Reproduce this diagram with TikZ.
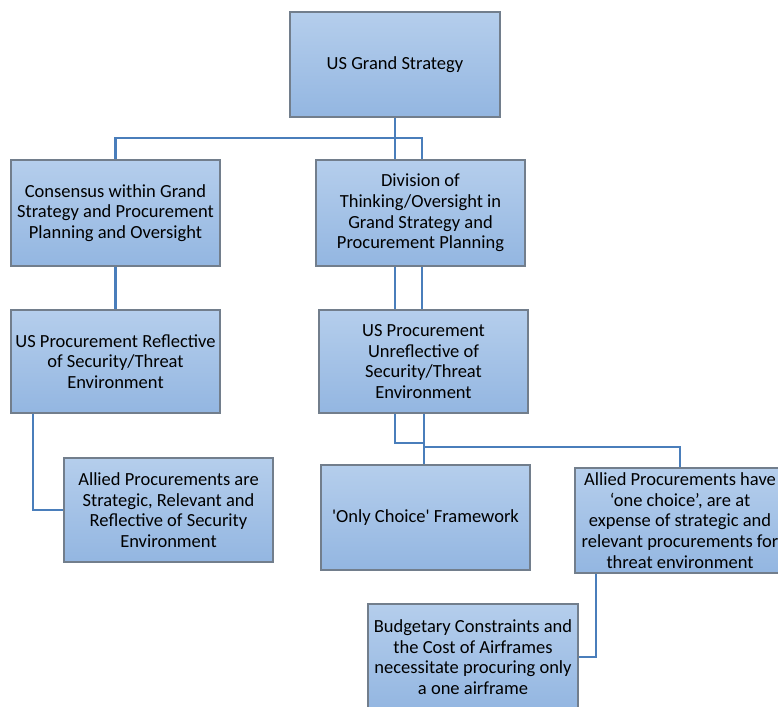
\documentclass[tikz,border=0pt]{standalone}
\usepackage{fontspec}
\setmainfont{Carlito}
\usetikzlibrary{calc}
\definecolor{boxtop}{HTML}{B5CEEC}
\definecolor{boxbot}{HTML}{93B6E1}
\definecolor{boxline}{HTML}{727E8C}
\definecolor{connblue}{HTML}{4A7EBB}
\newcommand{\boxfont}{\fontsize{18.5}{20.6}\selectfont}
\tikzset{
  box/.style={draw=boxline, line width=1.2pt, top color=boxtop, bottom color=boxbot,
    align=center, inner sep=2pt, minimum width=209pt, minimum height=105pt,
    font=\boxfont, text=black},
  conn/.style={draw=connblue, line width=2.6pt}
}
\begin{document}
\begin{tikzpicture}[x=1pt,y=-1pt]
\useasboundingbox (0,0) rectangle (778,706);
\clip (0,0) rectangle (778,706);
\fill[white] (0,0) rectangle (778,706);

\coordinate (x33) at (33,0);
\coordinate (x395) at (395,0);
\coordinate (x422) at (422,0);
\coordinate (x424) at (424,0);
\coordinate (x596) at (596,0);
\coordinate (j2) at (422,138);
\coordinate (j3) at (395,443);
\coordinate (j4) at (424,447);

\node[box, minimum width=210pt] (A) at (395,64.5) {US Grand Strategy};
\node[box, minimum height=106pt] (B) at (115.5,213) {Consensus within Grand\\Strategy and Procurement\\Planning and Oversight};
\node[box, minimum height=106pt] (C) at (420.5,213) {Division of\\Thinking/Oversight in\\Grand Strategy and\\Procurement Planning};
\node[box, minimum height=103pt] (D) at (115.5,361.5) {US Procurement Reflective\\of Security/Threat\\Environment};
\node[box, minimum height=103pt] (E) at (423.5,361.5) {US Procurement\\Unreflective of\\Security/Threat\\Environment};
\node[box, minimum height=104pt] (F) at (168.5,510) {Allied Procurements are\\Strategic, Relevant and\\Reflective of Security\\Environment};
\node[box] (G) at (425.5,517.5) {\textquotesingle Only Choice\textquotesingle{} Framework};
\node[box, minimum width=210pt] (H) at (680,520.5) {Allied Procurements have\\‘one choice’, are at\\expense of strategic and\\relevant procurements for\\threat environment};
\node[box, minimum width=210pt, minimum height=106pt] (I) at (473,657) {Budgetary Constraints and\\the Cost of Airframes\\necessitate procuring only\\a one airframe};

% connectors
\draw[conn] (A.south) -- (A.south |- C.north);
\draw[conn] (B.north) |- (j2) -- (j2 |- C.north);
\draw[conn] (B.south) -- (D.north);
\draw[conn] (C.south -| x395) -- (E.north -| x395);
\draw[conn] (C.south -| x422) -- (E.north -| x422);
\draw[conn] (E.south -| x395) -- (j3) -| (x424 |- E.south);
\draw[conn] (j3 -| x424) -- (G.north -| x424);
\draw[conn] (j4) -| (H.north);
\draw[conn] (D.south -| x33) |- (F.west);
\draw[conn] (H.south -| x596) |- (I.east);
\end{tikzpicture}
\end{document}
